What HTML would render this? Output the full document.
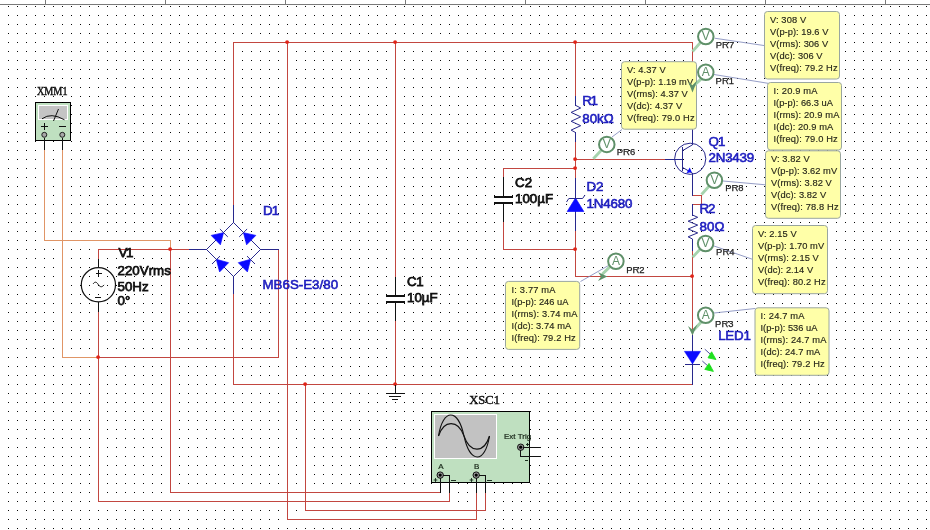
<!DOCTYPE html>
<html lang="en"><head><meta charset="utf-8"><title>Rectifier LED driver schematic</title>
<style>
html,body{margin:0;padding:0;background:#fff;overflow:hidden}
body{width:930px;height:530px}
svg{display:block;will-change:transform}
text{font-family:"Liberation Sans",sans-serif;white-space:pre}
.lb{font-size:13.33px;fill:#2020c0;stroke:#2020c0;stroke-width:0.6px;font-kerning:none}
.lk{font-size:13.33px;fill:#101010;stroke:#101010;stroke-width:0.75px;font-kerning:none}
.ser{font-family:"Liberation Serif",serif;font-size:11.5px;fill:#111;stroke:#111;stroke-width:0.4px}
.pr{font-size:9.6px;fill:#202020;stroke:#202020;stroke-width:0.25px}
.co{font-size:9.3px;fill:#26261a;stroke:#26261a;stroke-width:0.15px}
.pl{font-size:12px;fill:#5f9069;text-anchor:middle}
.sm{font-size:8px;fill:#142214;stroke:#142214;stroke-width:0.2px}
</style></head><body>
<svg width="930" height="530" viewBox="0 0 930 530">
<defs><pattern id="grid" x="0" y="0" width="9" height="9" patternUnits="userSpaceOnUse"><rect x="8" y="6" width="1" height="1" fill="#060606"/></pattern></defs>
<rect width="930" height="530" fill="#fff"/>
<rect x="0" y="5" width="930" height="525" fill="url(#grid)"/>
<g id="ruler">
<rect x="0" y="4" width="930" height="1" fill="#7a7a7a"/>
<rect x="45" y="0" width="1" height="5" fill="#7a7a7a"/>
<rect x="165" y="0" width="1" height="5" fill="#7a7a7a"/>
<rect x="285" y="0" width="1" height="5" fill="#7a7a7a"/>
<rect x="405" y="0" width="1" height="5" fill="#7a7a7a"/>
<rect x="525" y="0" width="1" height="5" fill="#7a7a7a"/>
<rect x="645" y="0" width="1" height="5" fill="#7a7a7a"/>
<rect x="765" y="0" width="1" height="5" fill="#7a7a7a"/>
<rect x="885" y="0" width="1" height="5" fill="#7a7a7a"/>
</g>
<g id="wires" shape-rendering="crispEdges">
<rect x="44" y="150" width="1" height="91" fill="#e09566"/>
<rect x="44" y="240" width="127" height="1" fill="#e09566"/>
<rect x="170" y="240" width="1" height="10" fill="#e09566"/>
<rect x="62" y="150" width="1" height="208" fill="#e09566"/>
<rect x="62" y="357" width="37" height="1" fill="#e09566"/>
<rect x="98" y="249" width="1" height="11" fill="#c24640"/>
<rect x="98" y="249" width="92" height="1" fill="#c24640"/>
<rect x="170" y="249" width="1" height="244" fill="#c24640"/>
<rect x="170" y="492" width="271" height="1" fill="#c24640"/>
<rect x="98" y="311" width="1" height="191" fill="#c24640"/>
<rect x="98" y="501" width="352" height="1" fill="#c24640"/>
<rect x="449" y="492" width="1" height="10" fill="#c24640"/>
<rect x="98" y="357" width="181" height="1" fill="#c24640"/>
<rect x="278" y="249" width="1" height="109" fill="#c24640"/>
<rect x="233" y="42" width="1" height="164" fill="#c24640"/>
<rect x="233" y="42" width="460" height="1" fill="#c24640"/>
<rect x="692" y="42" width="1" height="88" fill="#c24640"/>
<rect x="287" y="42" width="1" height="478" fill="#c24640"/>
<rect x="287" y="519" width="190" height="1" fill="#c24640"/>
<rect x="476" y="492" width="1" height="28" fill="#c24640"/>
<rect x="395" y="42" width="1" height="236" fill="#c24640"/>
<rect x="575" y="42" width="1" height="55" fill="#c24640"/>
<rect x="575" y="141" width="1" height="38" fill="#c24640"/>
<rect x="575" y="159" width="91" height="1" fill="#c24640"/>
<rect x="503" y="168" width="73" height="1" fill="#c24640"/>
<rect x="503" y="168" width="1" height="10" fill="#c24640"/>
<rect x="503" y="221" width="1" height="29" fill="#c24640"/>
<rect x="503" y="249" width="73" height="1" fill="#c24640"/>
<rect x="575" y="230" width="1" height="47" fill="#c24640"/>
<rect x="575" y="276" width="118" height="1" fill="#c24640"/>
<rect x="692" y="195" width="10" height="1" fill="#c24640"/>
<rect x="701" y="195" width="1" height="10" fill="#c24640"/>
<rect x="692" y="204" width="10" height="1" fill="#c24640"/>
<rect x="692" y="250" width="1" height="86" fill="#c24640"/>
<rect x="233" y="293" width="1" height="92" fill="#c24640"/>
<rect x="233" y="384" width="460" height="1" fill="#c24640"/>
<rect x="395" y="320" width="1" height="65" fill="#c24640"/>
<rect x="305" y="384" width="1" height="127" fill="#c24640"/>
<rect x="305" y="510" width="181" height="1" fill="#c24640"/>
<rect x="485" y="492" width="1" height="19" fill="#c24640"/>
</g>
<g id="junctions">
<circle cx="170.1" cy="249.1" r="1.9" fill="#e02418"/>
<circle cx="98.1" cy="357.1" r="1.9" fill="#e02418"/>
<circle cx="287.1" cy="42.1" r="1.9" fill="#e02418"/>
<circle cx="395.1" cy="42.1" r="1.9" fill="#e02418"/>
<circle cx="575.1" cy="42.1" r="1.9" fill="#e02418"/>
<circle cx="575.1" cy="159.1" r="1.9" fill="#e02418"/>
<circle cx="575.1" cy="168.1" r="1.9" fill="#e02418"/>
<circle cx="575.1" cy="249.1" r="1.9" fill="#e02418"/>
<circle cx="692.1" cy="276.1" r="1.9" fill="#e02418"/>
<circle cx="305.1" cy="384.1" r="1.9" fill="#e02418"/>
<circle cx="395.1" cy="384.1" r="1.9" fill="#e02418"/>
</g>
<g id="xmm1">
<rect x="35.5" y="102.5" width="35" height="38" fill="#bfe0c0" stroke="#000" stroke-width="1"/>
<rect x="38.5" y="105.5" width="29" height="14" fill="#c4c4c4" stroke="#fff" stroke-width="1"/>
<path d="M42 118.8 Q51 112 64.5 119.8" fill="none" stroke="#111" stroke-width="1"/>
<line x1="53.5" y1="121" x2="58.5" y2="109" stroke="#111" stroke-width="1" />
<rect x="41" y="126" width="7" height="1" fill="#111"/>
<rect x="44" y="123" width="1" height="7" fill="#111"/>
<rect x="59" y="126" width="7" height="1" fill="#111"/>
<circle cx="44.3" cy="134.8" r="2.5" fill="#a8a8a8" stroke="#111" stroke-width="0.9"/>
<circle cx="62.3" cy="134.8" r="2.5" fill="#a8a8a8" stroke="#111" stroke-width="0.9"/>
<rect x="44" y="138" width="1" height="12" fill="#111"/>
<rect x="62" y="138" width="1" height="12" fill="#111"/>
<text x="37" y="95" class="ser" textLength="30.5" lengthAdjust="spacingAndGlyphs">XMM1</text>
</g>
<g id="v1">
<circle cx="98.4" cy="284.8" r="17.1" fill="none" stroke="#111" stroke-width="1.2"/>
<rect x="98" y="259" width="1" height="9" fill="#111"/>
<rect x="98" y="302" width="1" height="10" fill="#111"/>
<rect x="96" y="273" width="6" height="1" fill="#111"/>
<rect x="98" y="270" width="1" height="6" fill="#111"/>
<rect x="95" y="297" width="6" height="1" fill="#111"/>
<path d="M93.2 283.8 C94.8 281.4 96.6 281.8 98.1 284.3 S101.6 288 104.1 284.9" fill="none" stroke="#111" stroke-width="1"/>
<text x="118.5" y="257.3" class="lk" textLength="14.8">V1</text>
<text x="117.5" y="275.2" class="lk">220Vrms</text>
<text x="117.5" y="291" class="lk">50Hz</text>
<text x="117.5" y="305.1" class="lk">0°</text>
</g>
<g id="d1">
<rect x="233" y="205" width="1" height="18" fill="#28288c"/>
<rect x="233" y="276" width="1" height="18" fill="#28288c"/>
<rect x="189" y="249" width="18" height="1" fill="#28288c"/>
<rect x="260" y="249" width="19" height="1" fill="#28288c"/>
<path d="M233.5 222.5 L260.5 249.5 L233.5 276.5 L206.5 249.5 Z" fill="none" stroke="#28288c" stroke-width="1"/>
<path d="M223.5 232.7 L211.2 235.4 L220.4 244.8 Z" fill="#0a0aff" stroke="#0a0aff" stroke-width="0.7" stroke-linejoin="round"/>
<line x1="219.9" y1="229" x2="227.8" y2="236.9" stroke="#28288c" stroke-width="1" />
<path d="M243.5 232.7 L255.8 235.4 L246.6 244.8 Z" fill="#0a0aff" stroke="#0a0aff" stroke-width="0.7" stroke-linejoin="round"/>
<line x1="239.2" y1="236.9" x2="247.1" y2="229" stroke="#28288c" stroke-width="1" />
<path d="M216.3 259.3 L228.6 262.7 L219.6 271.9 Z" fill="#0a0aff" stroke="#0a0aff" stroke-width="0.7" stroke-linejoin="round"/>
<line x1="212" y1="264" x2="220" y2="256.1" stroke="#28288c" stroke-width="1" />
<path d="M250.6 259.3 L238.3 262.7 L247.4 271.9 Z" fill="#0a0aff" stroke="#0a0aff" stroke-width="0.7" stroke-linejoin="round"/>
<line x1="247" y1="256.1" x2="255" y2="264" stroke="#28288c" stroke-width="1" />
<text x="263" y="215.2" class="lb" textLength="16.2">D1</text>
<text x="262.5" y="288.8" class="lb">MB6S-E3/80</text>
</g>
<g id="c1">
<rect x="395" y="277" width="1" height="19" fill="#111"/>
<rect x="395" y="302" width="1" height="19" fill="#111"/>
<rect x="386" y="295" width="19" height="2" fill="#111"/>
<rect x="386" y="301" width="19" height="2" fill="#111"/>
<text x="407" y="285.5" class="lk" textLength="16.6">C1</text>
<text x="407" y="302" class="lk">10µF</text>
</g>
<g id="gnd">
<rect x="395" y="385" width="1" height="8" fill="#111"/>
<rect x="386" y="393" width="19" height="1" fill="#111"/>
<rect x="389" y="396" width="12" height="1" fill="#111"/>
<rect x="392" y="399" width="6" height="1" fill="#111"/>
</g>
<g id="c2">
<rect x="503" y="177" width="1" height="20" fill="#111"/>
<rect x="503" y="203" width="1" height="19" fill="#111"/>
<rect x="494" y="196" width="19" height="2" fill="#111"/>
<rect x="494" y="202" width="19" height="2" fill="#111"/>
<text x="515" y="186.5" class="lk">C2</text>
<text x="515" y="202.8" class="lk">100µF</text>
</g>
<g id="r1">
<rect x="575" y="96" width="1" height="10" fill="#28288c"/>
<rect x="575" y="132" width="1" height="10" fill="#28288c"/>
<path d="M575.5 105.3 L580.7 108.0 L571.1 112.4 L580.7 116.8 L571.1 121.3 L580.7 125.7 L571.1 130.1 L575.5 132.5" fill="none" stroke="#28288c" stroke-width="1"/>
<text x="582.3" y="105.3" class="lb" textLength="15.7">R1</text>
<text x="582.3" y="123.4" class="lb">80kΩ</text>
</g>
<g id="r2">
<rect x="692" y="204" width="1" height="12" fill="#28288c"/>
<rect x="692" y="239" width="1" height="12" fill="#28288c"/>
<path d="M692.5 215.0 L697.7 217.3 L688.1 221.2 L697.7 225.1 L688.1 229.0 L697.7 232.9 L688.1 236.8 L692.5 239.0" fill="none" stroke="#28288c" stroke-width="1"/>
<text x="699.4" y="213.3" class="lb" textLength="16.1">R2</text>
<text x="699.6" y="231.2" class="lb">80Ω</text>
</g>
<g id="d2">
<rect x="575" y="178" width="1" height="53" fill="#28288c"/>
<path d="M575.5 198 L567.2 211.5 L583.8 211.5 Z" fill="#0a0aff" stroke="#0a0aff" stroke-width="0.7" stroke-linejoin="round"/>
<path d="M566.5 202 L568.8 198.5 L582.6 198.5 L585 195" fill="none" stroke="#28288c" stroke-width="1"/>
<text x="586.4" y="191.2" class="lb">D2</text>
<text x="586.5" y="207.6" class="lb" textLength="45.8">1N4680</text>
</g>
<g id="q1">
<circle cx="690.2" cy="158.8" r="15.6" fill="none" stroke="#28288c" stroke-width="1"/>
<rect x="692" y="129" width="1" height="16" fill="#28288c"/>
<rect x="692" y="173" width="1" height="23" fill="#28288c"/>
<rect x="665" y="159" width="18" height="1" fill="#28288c"/>
<rect x="682" y="147" width="1" height="24" fill="#28288c"/>
<line x1="682.5" y1="150.7" x2="692.5" y2="144.8" stroke="#28288c" stroke-width="1" />
<line x1="682.5" y1="167.4" x2="692.5" y2="173.2" stroke="#28288c" stroke-width="1" />
<path d="M689.7 167.4 L686.6 172.9 L691.8 172.2 Z" fill="#0a0aff"/>
<text x="708.5" y="146.2" class="lb" textLength="17.0">Q1</text>
<text x="708.5" y="162.3" class="lb" textLength="45.7">2N3439</text>
</g>
<g id="led1">
<rect x="692" y="335" width="1" height="50" fill="#28288c"/>
<path d="M684.3 351.3 L700.7 351.3 L692.5 364 Z" fill="#0a0aff" stroke="#0a0aff" stroke-width="0.4" stroke-linejoin="round"/>
<rect x="685" y="364" width="15" height="1" fill="#28288c"/>
<line x1="704.8" y1="349.2" x2="711" y2="354.8" stroke="#28288c" stroke-width="0.8" />
<line x1="702.3" y1="361" x2="708.5" y2="366.5" stroke="#28288c" stroke-width="0.8" />
<path d="M711.6 351.8 L716 359.6 L708 357.8 Z" fill="#1fe01f" stroke="#1fe01f" stroke-width="0.9" stroke-linejoin="round"/>
<path d="M709 363.4 L713.4 371.4 L704.8 369.4 Z" fill="#1fe01f" stroke="#1fe01f" stroke-width="0.9" stroke-linejoin="round"/>
<text x="718.2" y="339.8" class="lb" textLength="32.6">LED1</text>
</g>
<g id="xsc1">
<rect x="431.5" y="411.5" width="98" height="71" fill="#bfe0c0" stroke="#000" stroke-width="1"/>
<rect x="434.5" y="414.5" width="62" height="44" fill="#c2c2c2" stroke="#fff" stroke-width="1"/>
<path d="M438.5 436 C443 408 458 408 464 436 C470 464 485 464 489.5 436" fill="none" stroke="#111" stroke-width="1.1"/>
<path d="M438.5 436 C444 419.5 458 419.5 464 436 C470 453.5 484 453.5 489.5 436" fill="none" stroke="#111" stroke-width="1.1"/>
<text x="504" y="439.2" class="sm">Ext Trig</text>
<text x="438.2" y="469.1" class="sm">A</text>
<text x="474" y="469.1" class="sm">B</text>
<circle cx="440.2" cy="475.1" r="3.2" fill="#999" stroke="#111" stroke-width="1"/>
<circle cx="440.2" cy="475.1" r="1.6" fill="#000"/>
<circle cx="476.2" cy="475.1" r="3.2" fill="#999" stroke="#111" stroke-width="1"/>
<circle cx="476.2" cy="475.1" r="1.6" fill="#000"/>
<circle cx="520.7" cy="447.2" r="3.2" fill="#999" stroke="#111" stroke-width="1"/>
<circle cx="520.7" cy="447.2" r="1.6" fill="#000"/>
<rect x="523" y="447" width="18" height="1" fill="#111"/>
<rect x="520" y="450" width="1" height="7" fill="#111"/>
<rect x="520" y="456" width="21" height="1" fill="#111"/>
<rect x="443" y="475" width="7" height="1" fill="#111"/>
<rect x="449" y="475" width="1" height="18" fill="#111"/>
<rect x="440" y="478" width="1" height="15" fill="#111"/>
<rect x="479" y="475" width="7" height="1" fill="#111"/>
<rect x="485" y="475" width="1" height="18" fill="#111"/>
<rect x="476" y="478" width="1" height="15" fill="#111"/>
<path d="M433.7 480 H437.3 M435.5 478.1 V481.9" stroke="#1c3020" stroke-width="1" fill="none"/>
<path d="M469.7 480 H473.3 M471.5 478.1 V481.9" stroke="#1c3020" stroke-width="1" fill="none"/>
<rect x="451" y="480" width="5" height="1" fill="#1c3020"/>
<rect x="487" y="480" width="5" height="1" fill="#1c3020"/>
<rect x="526" y="444" width="3" height="1" fill="#1c3020"/>
<rect x="527" y="443" width="1" height="3" fill="#1c3020"/>
<rect x="525" y="460" width="3" height="1" fill="#1c3020"/>
<text x="469.3" y="403.8" class="ser" textLength="30.6" lengthAdjust="spacingAndGlyphs">XSC1</text>
</g>
<g id="leaders">
<line x1="714.5" y1="38.2" x2="764.5" y2="45.6" stroke="#7a84b8" stroke-width="0.8" />
<line x1="714" y1="74.5" x2="768" y2="83.3" stroke="#7a84b8" stroke-width="0.8" />
<line x1="723" y1="181" x2="765.5" y2="184.8" stroke="#7a84b8" stroke-width="0.8" />
<line x1="714" y1="246" x2="752.5" y2="259.3" stroke="#7a84b8" stroke-width="0.8" />
<line x1="714" y1="313" x2="755" y2="308.5" stroke="#7a84b8" stroke-width="0.8" />
<line x1="608.5" y1="265.5" x2="580.5" y2="281.5" stroke="#7a84b8" stroke-width="0.8" />
<line x1="612" y1="137" x2="622" y2="129.5" stroke="#7a84b8" stroke-width="0.8" />
</g>
<g id="callouts">
<rect x="621.5" y="61.7" width="75" height="67.5" rx="3" ry="3" fill="#ffffa8" stroke="#9aa6a0" stroke-width="1"/>
<text x="627.0" y="73.0" class="co" textLength="38.7">V: 4.37 V</text>
<text x="627.0" y="85.0" class="co" textLength="66.1">V(p-p): 1.19 mV</text>
<text x="627.0" y="97.1" class="co" textLength="60.7">V(rms): 4.37 V</text>
<text x="627.0" y="109.1" class="co" textLength="55.1">V(dc): 4.37 V</text>
<text x="627.0" y="121.1" class="co" textLength="67.6">V(freq): 79.0 Hz</text>
<rect x="764.5" y="11.5" width="75" height="67.5" rx="3" ry="3" fill="#ffffa8" stroke="#9aa6a0" stroke-width="1"/>
<text x="770.0" y="22.5" class="co" textLength="36.1">V: 308 V</text>
<text x="770.0" y="34.5" class="co" textLength="58.4">V(p-p): 19.6 V</text>
<text x="770.0" y="46.6" class="co" textLength="58.2">V(rms): 306 V</text>
<text x="770.0" y="58.6" class="co" textLength="52.5">V(dc): 306 V</text>
<text x="770.0" y="70.6" class="co" textLength="67.6">V(freq): 79.2 Hz</text>
<rect x="767.5" y="82.5" width="74" height="67.5" rx="3" ry="3" fill="#ffffa8" stroke="#9aa6a0" stroke-width="1"/>
<text x="773.5" y="93.8" class="co" textLength="44.0">I: 20.9 mA</text>
<text x="773.5" y="105.8" class="co" textLength="59.4">I(p-p): 66.3 uA</text>
<text x="773.5" y="117.9" class="co" textLength="65.9">I(rms): 20.9 mA</text>
<text x="773.5" y="129.9" class="co" textLength="59.8">I(dc): 20.9 mA</text>
<text x="773.5" y="141.9" class="co" textLength="64.2">I(freq): 79.0 Hz</text>
<rect x="765.5" y="150.8" width="75" height="67.5" rx="3" ry="3" fill="#ffffa8" stroke="#9aa6a0" stroke-width="1"/>
<text x="771.0" y="162.1" class="co" textLength="38.7">V: 3.82 V</text>
<text x="771.0" y="174.1" class="co" textLength="66.1">V(p-p): 3.62 mV</text>
<text x="771.0" y="186.2" class="co" textLength="60.7">V(rms): 3.82 V</text>
<text x="771.0" y="198.2" class="co" textLength="55.1">V(dc): 3.82 V</text>
<text x="771.0" y="210.2" class="co" textLength="67.6">V(freq): 78.8 Hz</text>
<rect x="752.5" y="225.5" width="75" height="68.2" rx="3" ry="3" fill="#ffffa8" stroke="#9aa6a0" stroke-width="1"/>
<text x="758.0" y="236.5" class="co" textLength="38.7">V: 2.15 V</text>
<text x="758.0" y="248.5" class="co" textLength="66.1">V(p-p): 1.70 mV</text>
<text x="758.0" y="260.6" class="co" textLength="60.7">V(rms): 2.15 V</text>
<text x="758.0" y="272.6" class="co" textLength="55.1">V(dc): 2.14 V</text>
<text x="758.0" y="284.6" class="co" textLength="67.6">V(freq): 80.2 Hz</text>
<rect x="755" y="307.8" width="74" height="67.5" rx="3" ry="3" fill="#ffffa8" stroke="#9aa6a0" stroke-width="1"/>
<text x="760.5" y="319.1" class="co" textLength="44.0">I: 24.7 mA</text>
<text x="760.5" y="331.1" class="co" textLength="56.9">I(p-p): 536 uA</text>
<text x="760.5" y="343.2" class="co" textLength="65.9">I(rms): 24.7 mA</text>
<text x="760.5" y="355.2" class="co" textLength="59.8">I(dc): 24.7 mA</text>
<text x="760.5" y="367.2" class="co" textLength="64.2">I(freq): 79.2 Hz</text>
<rect x="505.5" y="281.4" width="74.2" height="68" rx="3" ry="3" fill="#ffffa8" stroke="#9aa6a0" stroke-width="1"/>
<text x="511.5" y="292.7" class="co" textLength="44.0">I: 3.77 mA</text>
<text x="511.5" y="304.7" class="co" textLength="56.9">I(p-p): 246 uA</text>
<text x="511.5" y="316.8" class="co" textLength="65.9">I(rms): 3.74 mA</text>
<text x="511.5" y="328.8" class="co" textLength="59.8">I(dc): 3.74 mA</text>
<text x="511.5" y="340.8" class="co" textLength="64.2">I(freq): 79.2 Hz</text>
</g>
<g id="probes">
<path d="M700.5 42.5 L692.5 51.5" stroke="#a6d3ad" stroke-width="2.8" fill="none"/>
<circle cx="705.8" cy="36.5" r="7.75" fill="#fff" stroke="#5f9069" stroke-width="2"/>
<text x="705.8" y="40.4" class="pl">V</text>
<text x="715.8" y="48" class="pr" textLength="18.4" lengthAdjust="spacingAndGlyphs">PR7</text>
<path d="M701.3 78.9 L694.5 85.0" stroke="#a6d3ad" stroke-width="3" fill="none" stroke-linecap="round"/>
<path d="M692.5 92.5 L688.3 82 L692.6 85.2 L697.2 80.5 Z" fill="#5f9069"/>
<circle cx="705.8" cy="72.3" r="7.75" fill="#fff" stroke="#5f9069" stroke-width="2"/>
<text x="705.8" y="76.2" class="pl">A</text>
<text x="715.6" y="83.6" class="pr" textLength="18.4" lengthAdjust="spacingAndGlyphs">PR1</text>
<path d="M601.3 150.2 L593.3 158.8" stroke="#a6d3ad" stroke-width="2.8" fill="none"/>
<circle cx="606.8" cy="144.4" r="7.75" fill="#fff" stroke="#5f9069" stroke-width="2"/>
<text x="606.8" y="148.3" class="pl">V</text>
<text x="616.8" y="155.3" class="pr" textLength="18.4" lengthAdjust="spacingAndGlyphs">PR6</text>
<path d="M709.0 186.2 L701.5 194.5" stroke="#a6d3ad" stroke-width="2.8" fill="none"/>
<circle cx="714.4" cy="180.3" r="7.75" fill="#fff" stroke="#5f9069" stroke-width="2"/>
<text x="714.4" y="184.20000000000002" class="pl">V</text>
<text x="725.2" y="191.3" class="pr" textLength="18.4" lengthAdjust="spacingAndGlyphs">PR8</text>
<path d="M700.1 249.3 L692.6 257.2" stroke="#a6d3ad" stroke-width="2.8" fill="none"/>
<circle cx="705.6" cy="243.5" r="7.75" fill="#fff" stroke="#5f9069" stroke-width="2"/>
<text x="705.6" y="247.4" class="pl">V</text>
<text x="716.1" y="254.5" class="pr" textLength="18.4" lengthAdjust="spacingAndGlyphs">PR4</text>
<path d="M610.1 266.7 L603.0 273.5" stroke="#a6d3ad" stroke-width="3" fill="none" stroke-linecap="round"/>
<path d="M607.3 276.6 L598 281 L601 276.6 L598.2 272.3 Z" fill="#5f9069"/>
<circle cx="615.9" cy="261.2" r="7.75" fill="#fff" stroke="#5f9069" stroke-width="2"/>
<text x="615.9" y="265.09999999999997" class="pl">A</text>
<text x="626.2" y="272.7" class="pr" textLength="18.4" lengthAdjust="spacingAndGlyphs">PR2</text>
<path d="M701.2 321.9 L694.3 329.5" stroke="#a6d3ad" stroke-width="3" fill="none" stroke-linecap="round"/>
<path d="M692.5 335.6 L688 326 L692.4 329.4 L697.4 324.6 Z" fill="#5f9069"/>
<circle cx="705.7" cy="315.3" r="7.75" fill="#fff" stroke="#5f9069" stroke-width="2"/>
<text x="705.7" y="319.2" class="pl">A</text>
<text x="715.1" y="327" class="pr" textLength="18.4" lengthAdjust="spacingAndGlyphs">PR3</text>
</g>
</svg></body></html>
